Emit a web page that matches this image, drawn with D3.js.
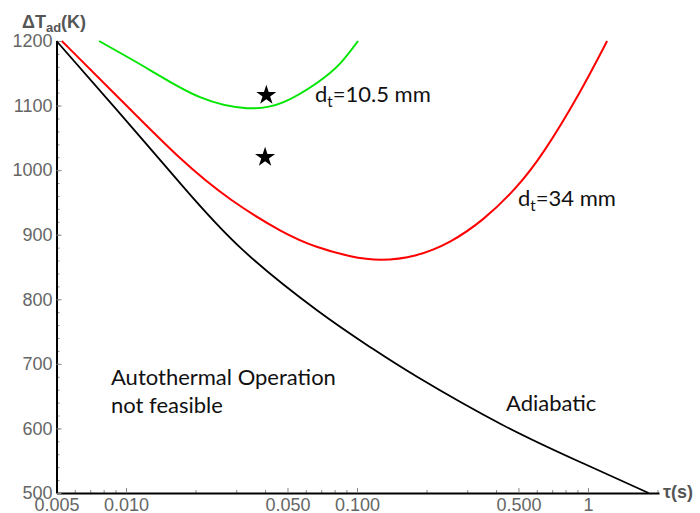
<!DOCTYPE html>
<html>
<head>
<meta charset="utf-8">
<script src="https://cdn.jsdelivr.net/npm/d3@7"></script>
<style>
  body { margin: 0; background: #fff; }
  svg { display: block; }
</style>
</head>
<body>
<svg id="chart" width="700" height="513"></svg>
<script>
// Adiabatic curve
const adiabaticTau = [0.005, 0.00914, 0.0177, 0.0321, 0.0671, 0.114, 0.182, 0.429, 0.951, 1.83];
const adiabaticT   = [1200, 1093, 974, 876, 783, 726, 680, 605, 546, 500];

// dt = 34 mm
const red34Tau = [0.00527, 0.00914, 0.0177, 0.0282, 0.048, 0.0669, 0.0932, 0.1257,
                  0.1813, 0.2527, 0.3522, 0.4913, 0.6404, 0.923, 1.21];
const red34T   = [1200, 1115, 1011, 953, 902, 880, 866, 859,
                  866, 887, 922, 972, 1025, 1119, 1200];

// dt = 10.5 mm
const green105Tau = [0.00764, 0.0127, 0.0209, 0.0334, 0.0478, 0.067, 0.0844, 0.101];
const green105T   = [1200, 1155, 1113, 1096, 1105, 1135, 1165, 1200];

// experimental points (stars)
const starTau = [0.0405, 0.040];
const starT   = [1116, 1020];

// ticks
const xMajorTicks = [0.005, 0.01, 0.05, 0.1, 0.5, 1];
const xTickLabels = ['0.005', '0.010', '0.050', '0.100', '0.500', '1'];
const xMinorTicks = [0.006, 0.007, 0.008, 0.009, 0.02, 0.03, 0.04, 0.06, 0.07, 0.08, 0.09,
                     0.2, 0.3, 0.4, 0.6, 0.7, 0.8, 0.9, 2];
const yMajorTicks = [500, 600, 700, 800, 900, 1000, 1100, 1200];
const yMinorTicks = d3.range(500, 1201, 20);

const svg = d3.select('#chart');

const x = d3.scaleLog().domain([0.005, 2.03]).range([56.5, 659]);
const y = d3.scaleLinear().domain([500, 1200]).range([493, 41]);

const zip = (a, b) => a.map((d, i) => ({ tau: d, T: b[i] }));

// minor ticks first
svg.append('g')
  .attr('transform', `translate(0,${y(500)})`)
  .call(d3.axisBottom(x).tickValues(xMinorTicks).tickSize(-3).tickFormat(''))
  .call(g => g.select('.domain').remove())
  .call(g => g.selectAll('line').attr('stroke', '#888'));

svg.append('g')
  .attr('transform', `translate(${x(0.005)},0)`)
  .call(d3.axisLeft(y).tickValues(yMinorTicks).tickSize(-3).tickFormat(''))
  .call(g => g.select('.domain').remove())
  .call(g => g.selectAll('line').attr('stroke', '#888'));

// major axes
const xAxis = svg.append('g')
  .attr('transform', `translate(0,${y(500)})`)
  .call(d3.axisBottom(x)
    .tickValues(xMajorTicks)
    .tickSizeInner(-5).tickSizeOuter(0).tickPadding(5)
    .tickFormat((d, i) => xTickLabels[i]));

const yAxis = svg.append('g')
  .attr('transform', `translate(${x(0.005)},0)`)
  .call(d3.axisLeft(y)
    .tickValues(yMajorTicks)
    .tickSizeInner(-5).tickSizeOuter(0).tickPadding(4)
    .tickFormat(d3.format('d')));

[xAxis, yAxis].forEach(g => {
  g.select('.domain').attr('stroke', '#000').attr('stroke-width', 2);
  g.selectAll('.tick line').attr('stroke', '#888');
  g.selectAll('.tick text')
    .attr('fill', '#666')
    .style('font-family', '"Liberation Sans", Arial, sans-serif')
    .style('font-size', '18px');
});

// curves
const series = [
  { data: zip(green105Tau, green105T), color: '#00e600', width: 2, curve: d3.curveNatural },
  { data: zip(red34Tau, red34T), color: '#ff0000', width: 2, curve: d3.curveBasis },
  { data: zip(adiabaticTau, adiabaticT), color: '#000000', width: 1.8, curve: d3.curveNatural }
];

series.forEach(s => {
  const line = d3.line()
    .x(d => x(d.tau))
    .y(d => y(d.T))
    .curve(s.curve);
  svg.append('path')
    .datum(s.data)
    .attr('d', line)
    .attr('fill', 'none')
    .attr('stroke', s.color)
    .attr('stroke-width', s.width);
});

// stars
svg.selectAll('.star')
  .data(zip(starTau, starT))
  .enter()
  .append('path')
  .attr('class', 'star')
  .attr('d', d3.symbol().type(d3.symbolStar).size(125))
  .attr('transform', d => `translate(${x(d.tau)},${y(d.T)})`)
  .attr('fill', '#000');

// axis titles
const axisFont = '"Liberation Sans", Arial, sans-serif';
const yTitle = svg.append('text')
  .attr('x', 22).attr('y', 28)
  .attr('fill', '#555')
  .style('font-family', axisFont)
  .style('font-size', '18px')
  .style('font-weight', 'bold');
yTitle.append('tspan').text('ΔT');
yTitle.append('tspan').attr('dy', 4).style('font-size', '13px').text('ad');
yTitle.append('tspan').attr('dy', -4).text('(K)');

svg.append('text')
  .attr('x', 663).attr('y', 498)
  .attr('fill', '#555')
  .style('font-family', axisFont)
  .style('font-size', '18px')
  .style('font-weight', 'bold')
  .text('τ(s)');

// annotations
const noteFont = 'Lato, "Open Sans", sans-serif';
function dtLabel(px, py, value) {
  const t = svg.append('text')
    .attr('x', px).attr('y', py)
    .attr('fill', '#111')
    .style('font-family', noteFont)
    .style('font-size', '22px');
  t.append('tspan').text('d');
  t.append('tspan').attr('dy', 5).style('font-size', '15px').text('t');
  t.append('tspan').attr('dy', -5).text('=' + value + ' mm');
}
dtLabel(315, 102, '10.5');
dtLabel(518, 206, '34');

[['Autothermal Operation', 111, 385], ['not feasible', 111, 413], ['Adiabatic', 506, 411]]
  .forEach(([txt, px, py]) => {
    svg.append('text')
      .attr('x', px).attr('y', py)
      .attr('fill', '#111')
      .style('font-family', noteFont)
      .style('font-size', '22px')
      .text(txt);
  });
</script>
</body>
</html>
